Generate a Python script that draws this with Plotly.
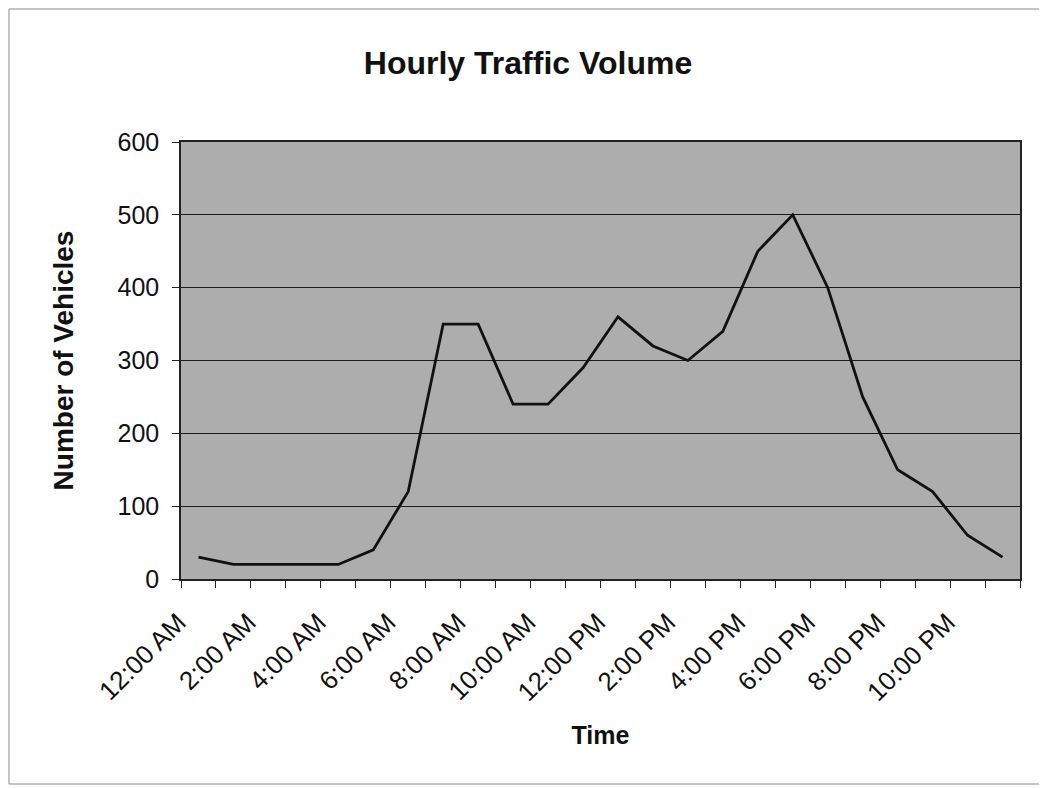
import plotly.graph_objects as go

hours = ["12:00 AM", "1:00 AM", "2:00 AM", "3:00 AM", "4:00 AM", "5:00 AM",
         "6:00 AM", "7:00 AM", "8:00 AM", "9:00 AM", "10:00 AM", "11:00 AM",
         "12:00 PM", "1:00 PM", "2:00 PM", "3:00 PM", "4:00 PM", "5:00 PM",
         "6:00 PM", "7:00 PM", "8:00 PM", "9:00 PM", "10:00 PM", "11:00 PM"]
vehicles = [30, 20, 20, 20, 20, 40, 120, 350, 350, 240, 240, 290,
            360, 320, 300, 340, 450, 500, 400, 250, 150, 120, 60, 30]
y_ticks = [0, 100, 200, 300, 400, 500, 600]

# page body has an 8px margin, so the figure is sized/offset to compensate
W, H = 1039, 780
L, R, T, B = 173, 27, 134, 209
pw, ph = W - L - R, H - T - B

xs = list(range(len(hours)))
label_idx = xs[::2]

font_family = "Liberation Sans, Arial, sans-serif"

fig = go.Figure()
fig.add_trace(go.Scatter(
    x=xs, y=vehicles, mode="lines",
    line=dict(color="#111111", width=2.8),
    showlegend=False, hoverinfo="skip",
))

fig.update_layout(
    width=W, height=H,
    margin=dict(l=L, r=R, t=T, b=B, autoexpand=False),
    paper_bgcolor="white",
    plot_bgcolor="#adadad",
    font=dict(family=font_family, color="#111111"),
    title=dict(text="<b>Hourly Traffic Volume</b>", x=(528 - 8) / W, xref="container",
               xanchor="center", y=1 - 55 / H, yref="container", yanchor="middle",
               font=dict(size=32, family=font_family, color="#111111")),
    showlegend=False,
)

fig.update_xaxes(
    range=[-0.5, len(hours) - 0.5],
    tickmode="array", tickvals=label_idx, ticktext=[hours[i] for i in label_idx],
    tickangle=-45, ticks="", tickfont=dict(size=26),
    ticklabelstandoff=16, ticklabelshift=-20,
    showgrid=False, zeroline=False,
    showline=True, linecolor="#222222", linewidth=1.5, mirror=True,
    minor=dict(ticks="outside", tick0=-0.5, dtick=1, ticklen=7,
               tickcolor="#222222", tickwidth=1.2, showgrid=False),
    title=dict(text="<b>Time</b>", font=dict(size=25), standoff=20),
    automargin=False,
)
fig.update_yaxes(
    range=[0, 600], tickmode="array", tickvals=y_ticks,
    ticks="outside", ticklen=7, tickcolor="#222222", tickwidth=1.2,
    tickfont=dict(size=25), ticklabelstandoff=8,
    showgrid=True, gridcolor="#1a1a1a", gridwidth=1,
    zeroline=False,
    showline=True, linecolor="#222222", linewidth=1.5, mirror=True,
    title=dict(text="<b>Number of Vehicles</b>", font=dict(size=28), standoff=36),
    automargin=False,
)

# Outer chart border
fig.add_shape(type="rect", xref="paper", yref="paper",
              x0=(1 - L) / pw, x1=(1032 - L) / pw,
              y0=(H - B - 776) / ph, y1=(H - B - 1) / ph,
              line=dict(color="#8a8a8a", width=1), layer="below")

fig.write_html("out.html")
